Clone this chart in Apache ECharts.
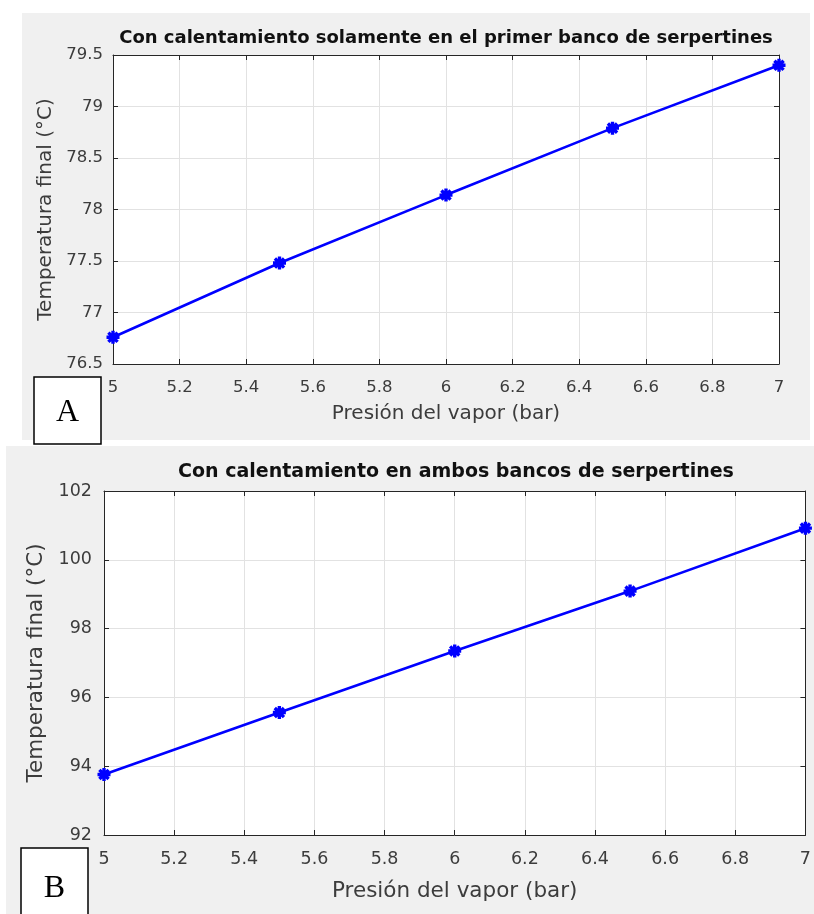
<!DOCTYPE html>
<html>
<head>
<meta charset="utf-8">
<script src="https://cdn.jsdelivr.net/npm/echarts@6/dist/echarts.min.js"></script>
<style>html,body{margin:0;padding:0;background:#fff;}#c{width:814px;height:914px;}</style>
</head>
<body>
<div id="c"></div>
<script>
// ---- data ----
const pressures = [5, 5.5, 6, 6.5, 7];
const tempsA = [76.76, 77.48, 78.14, 78.79, 79.40];
const tempsB = [93.76, 95.56, 97.35, 99.09, 100.92];
const titleA = 'Con calentamiento solamente en el primer banco de serpertines';
const titleB = 'Con calentamiento en ambos bancos de serpertines';
const xName = 'Presión del vapor (bar)';
const yName = 'Temperatura final (°C)';
const panelLetters = ['A', 'B'];

const FONT = 'DejaVu Sans';
const TXT = '#3c3c3c';
const AX = '#262626';
const GRIDC = '#e2e2e2';

const asterisk = 'path://M-5,-1.3L5,-1.3L5,1.3L-5,1.3Z M-1.3,-5L1.3,-5L1.3,5L-1.3,5Z M-2.62,-4.45L4.45,2.62L2.62,4.45L-4.45,-2.62Z M-4.45,2.62L2.62,-4.45L4.45,-2.62L-2.62,4.45Z';

function mainX(gi, fs, margin, gap, nfs) {
  return {
    type: 'value', gridIndex: gi, min: 5, max: 7, interval: 0.2, position: 'bottom',
    name: xName, nameLocation: 'middle', nameGap: gap,
    nameTextStyle: {fontFamily: FONT, fontSize: nfs, color: TXT},
    axisLine: {show: true, lineStyle: {color: AX, width: 1}},
    axisTick: {show: true, inside: true, length: 5, lineStyle: {color: AX}},
    axisLabel: {fontFamily: FONT, fontSize: fs, color: TXT, margin: margin},
    splitLine: {show: true, lineStyle: {color: GRIDC, width: 1}}
  };
}
function mirrorX(gi) {
  return {
    type: 'value', gridIndex: gi, min: 5, max: 7, interval: 0.2, position: 'top',
    axisLine: {show: true, onZero: false, lineStyle: {color: AX, width: 1}},
    axisTick: {show: true, inside: true, length: 5, lineStyle: {color: AX}},
    axisLabel: {show: false}, splitLine: {show: false}
  };
}
function mainY(gi, min, max, itv, fs, margin, gap, nfs) {
  return {
    type: 'value', gridIndex: gi, min: min, max: max, interval: itv, position: 'left',
    name: yName, nameLocation: 'middle', nameGap: gap,
    nameTextStyle: {fontFamily: FONT, fontSize: nfs, color: TXT},
    axisLine: {show: true, onZero: false, lineStyle: {color: AX, width: 1}},
    axisTick: {show: true, inside: true, length: 5, lineStyle: {color: AX}},
    axisLabel: {fontFamily: FONT, fontSize: fs, color: TXT, margin: margin},
    splitLine: {show: true, lineStyle: {color: GRIDC, width: 1}}
  };
}
function mirrorY(gi, min, max, itv) {
  return {
    type: 'value', gridIndex: gi, min: min, max: max, interval: itv, position: 'right',
    axisLine: {show: true, onZero: false, lineStyle: {color: AX, width: 1}},
    axisTick: {show: true, inside: true, length: 5, lineStyle: {color: AX}},
    axisLabel: {show: false}, splitLine: {show: false}
  };
}
function lineSeries(xi, yi, vals) {
  return {
    type: 'line', xAxisIndex: xi, yAxisIndex: yi,
    data: pressures.map((p, i) => [p, vals[i]]),
    symbol: asterisk, symbolSize: 13, showSymbol: true,
    lineStyle: {color: '#0000ff', width: 2.6},
    itemStyle: {color: '#0000ff'},
    animation: false, z: 5
  };
}

const chart = echarts.init(document.getElementById('c'), null, {renderer: 'canvas'});
chart.setOption({
  backgroundColor: '#ffffff',
  animation: false,
  grid: [
    {left: 113, top: 55, width: 666, height: 309, show: true, backgroundColor: '#ffffff', borderWidth: 0, containLabel: false},
    {left: 104, top: 491, width: 704, height: 344, show: true, backgroundColor: '#ffffff', borderWidth: 0, containLabel: false}
  ],
  xAxis: [mainX(0, 16.5, 15, 40, 20), mirrorX(0), mainX(1, 17.5, 15, 45, 21.5), mirrorX(1)],
  yAxis: [mainY(0, 76.5, 79.5, 0.5, 16.5, 10, 57, 20), mirrorY(0, 76.5, 79.5, 0.5),
          mainY(1, 92, 102, 2, 17.5, 12, 52, 21.5), mirrorY(1, 92, 102, 2)],
  series: [lineSeries(0, 0, tempsA), lineSeries(2, 2, tempsB)],
  graphic: [
    {type: 'rect', z: -100, silent: true, shape: {x: 22, y: 13, width: 788, height: 427}, style: {fill: '#f0f0f0'}},
    {type: 'rect', z: -100, silent: true, shape: {x: 6, y: 446, width: 808, height: 468}, style: {fill: '#f0f0f0'}},
    {type: 'text', z: 10, x: 446, y: 38, style: {text: titleA, fill: '#111', font: 'bold 18px "DejaVu Sans"', textAlign: 'center', textVerticalAlign: 'middle'}},
    {type: 'text', z: 10, x: 456, y: 472, style: {text: titleB, fill: '#111', font: 'bold 19px "DejaVu Sans"', textAlign: 'center', textVerticalAlign: 'middle'}},
    {type: 'rect', z: 20, shape: {x: 34, y: 377, width: 67, height: 67}, style: {fill: '#fff', stroke: '#000', lineWidth: 1.5}},
    {type: 'text', z: 21, x: 67.5, y: 413, style: {text: panelLetters[0], fill: '#000', font: '32px "Liberation Serif"', textAlign: 'center', textVerticalAlign: 'middle'}},
    {type: 'rect', z: 20, shape: {x: 21, y: 848, width: 67, height: 70}, style: {fill: '#fff', stroke: '#000', lineWidth: 1.5}},
    {type: 'text', z: 21, x: 54.5, y: 889, style: {text: panelLetters[1], fill: '#000', font: '32px "Liberation Serif"', textAlign: 'center', textVerticalAlign: 'middle'}}
  ]
});
</script>
</body>
</html>
